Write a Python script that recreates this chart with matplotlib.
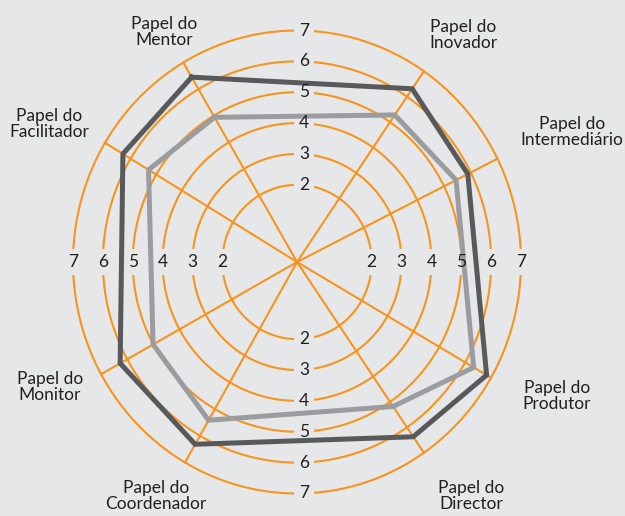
"""Radar chart of the eight manager roles (two profiles)."""

import matplotlib.pyplot as plt
import numpy as np

plt.rcParams["font.family"] = ["Lato", "DejaVu Sans"]

# data
categories = [
    "Papel do\nMentor",
    "Papel do\nInovador",
    "Papel do\nIntermediário",
    "Papel do\nProdutor",
    "Papel do\nDirector",
    "Papel do\nCoordenador",
    "Papel do\nMonitor",
    "Papel do\nFacilitador",
]
# the original spokes are not evenly spaced
category_angles_deg = [120.5, 55.5, 26.5, -30, -55.5, -120, -151, 149]
dark_values = [6.45, 6.31, 5.89, 6.83, 6.37, 6.32, 6.27, 6.30]
light_values = [4.94, 5.28, 5.45, 6.33, 5.18, 5.42, 5.01, 5.30]
ring_values = [2, 3, 4, 5, 6, 7]
scale_angles_deg = [0, 90, 180, 270]

# style
BG = "#e6e7e8"
ORANGE = "#f7941d"
DARK = "#58595b"
LIGHT = "#9a9c9f"
TEXT = "#231f20"
W, H = 625, 516
CX, CY = 297, 262
RX, RY = 224, 231.5

# label centres in figure pixels (top-left origin)
label_pos = [
    (164, 32), (463, 35), (572, 132), (557, 396),
    (471, 496), (156, 496), (50, 387), (49, 124),
]

fig = plt.figure(figsize=(W / 100, H / 100), dpi=100, facecolor=BG)
ax = fig.add_axes(
    [(CX - RX) / W, (H - CY - RY) / H, 2 * RX / W, 2 * RY / H],
    projection="polar",
)
ax.set_aspect("auto")
ax.set_facecolor("none")
ax.set_ylim(-0.5, 7)
ax.set_xticks([])
ax.set_yticks([])
ax.grid(False)
ax.spines["polar"].set_visible(False)

theta = np.linspace(0, 2 * np.pi, 721)
for v in ring_values:
    ax.plot(theta, np.full_like(theta, v), color=ORANGE, lw=1.5, zorder=1, clip_on=False)
for a in category_angles_deg:
    t = np.deg2rad(a)
    ax.plot([t, t], [-0.5, 7], color=ORANGE, lw=1.5, zorder=1, clip_on=False)

# scale numbers: masking box below the data lines, digit on top
for a in scale_angles_deg:
    t = np.deg2rad(a)
    dx = 5 if a in (90, 270) else 0
    for v in ring_values:
        kw = dict(xy=(t, v), xytext=(dx, 0), textcoords="offset points",
                  ha="center", va="center", fontsize=12.5, annotation_clip=False)
        ax.annotate(str(v), color=BG, zorder=2,
                    bbox=dict(boxstyle="square,pad=0.3", fc=BG, ec="none"), **kw)
        ax.annotate(str(v), color=TEXT, zorder=5, **kw)

angles = np.deg2rad(category_angles_deg + category_angles_deg[:1])
for vals, col in [(light_values, LIGHT), (dark_values, DARK)]:
    ax.plot(angles, vals + vals[:1], color=col, lw=3.6, zorder=3,
            solid_joinstyle="miter", clip_on=False)

for name, (px, py) in zip(categories, label_pos):
    fig.text(px / W, 1 - py / H, name, ha="center", va="center",
             fontsize=12.5, color=TEXT, linespacing=1.05)

fig.savefig("out.png", dpi=100, facecolor=BG)
